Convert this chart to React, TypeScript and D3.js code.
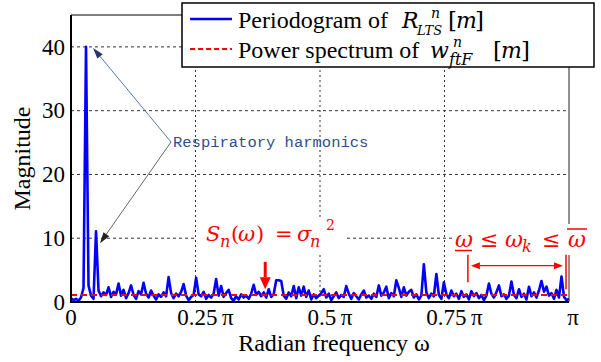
import { useEffect, useState } from 'react';
import * as d3 from 'd3';

const WIDTH = 601;
const HEIGHT = 362;
const MARGIN = { top: 15, right: 32, bottom: 60, left: 71 };

const periodogram = [
  0.6, 0.3, 0.5, 0.2, 0.7, 2.2, 40, 2.6, 1.0, 0.5,
  11.1, 1.8, 0.9, 1.5, 1.1, 2.3, 0.8, 1.6, 1.2, 2.9,
  1.0, 1.9, 0.6, 1.4, 2.6, 1.1, 0.5, 1.7, 1.2, 3.0,
  1.3, 0.7, 1.8, 1.0, 0.4, 1.2, 0.8, 1.5, 0.9, 3.9,
  1.4, 0.6, 1.3, 0.9, 1.6, 2.8, 1.0, 0.3, 0.8, 1.1,
  3.8, 1.2, 0.9, 1.6, 0.5, 1.1, 0.7, 1.3, 3.6, 1.0,
  2.5, 0.8, 1.4, 1.9, 0.6, 0.2, 0.9, 0.4, 1.2, 0.7,
  1.0, 0.5, 1.3, 2.7, 1.1, 1.6, 0.9, 1.5, 0.7, 2.0,
  0.8, 1.2, 3.4, 3.4, 3.3, 1.0, 0.5, 1.5, 0.9, 2.5,
  0.6, 2.3, 1.0, 2.4, 0.8, 1.8, 0.4, 1.2, 0.6, 1.0,
  1.4, 2.0, 0.7, 1.3, 0.3, 0.9, 1.5, 0.6, 1.1, 0.8,
  2.5, 1.3, 0.5, 1.4, 0.9, 0.4, 1.2, 1.8, 0.7, 1.0,
  0.5, 1.3, 0.8, 2.6, 1.0, 1.5, 2.4, 0.6, 1.4, 0.9,
  3.4, 2.2, 0.8, 2.3, 1.0, 1.6, 1.9, 0.7, 1.2, 0.4,
  1.0, 5.9, 1.5, 0.6, 1.3, 0.9, 4.4, 1.1, 0.5, 3.1,
  1.2, 0.6, 1.8, 0.9, 1.3, 0.5, 1.7, 0.8, 1.2, 0.4,
  1.7, 0.9, 1.4, 0.6, 1.1, 0.3, 1.0, 2.9, 1.3, 0.7,
  1.5, 2.6, 0.9, 1.2, 0.5, 1.0, 3.2, 1.1, 0.6, 2.0,
  0.8, 1.3, 0.4, 2.4, 0.9, 1.5, 0.7, 1.8, 3.3, 1.6,
  2.4, 1.0, 1.4, 0.5, 1.9, 0.7, 4.0, 0.8, 0.3, 0.5,
];

// power spectrum of w_ftF[m] (flat: noise variance)
const noiseVariance = 1.1;

const yTicks = [0, 10, 20, 30, 40];
const xTicks = [0, 0.25, 0.5, 0.75, 1]; // multiples of π
const xTickLabels = ['0', '0.25\u2009π', '0.5\u2009π', '0.75\u2009π', 'π'];
const xLabelShift = [0, 10, 10, 10, 4];

// respiratory harmonics (sample index) and the arrow tips' offsets in px
const harmonicIdx = [6, 10];
const harmonicTipOffset = [[7, 1], [4, 12]];

// annotation positions, in data units (ω / π, magnitude)
const snArrow = { w: 0.39, from: 6.3, to: 2.0 };
const band = { lo: 0.797, hi: 0.994, arrowAt: 5.7, top: 7.4, loBottom: 3.1, hiBottom: 2.0 };

const SERIF = 'Liberation Serif';
const MATH = 'DejaVu Serif';
const MONO = 'Liberation Mono';
const RED = '#ff0000';
const BLUE = '#0000ff';

const x = d3.scaleLinear().domain([0, Math.PI]).range([MARGIN.left, WIDTH - MARGIN.right]);
const y = d3.scaleLinear().domain([0, 45]).range([HEIGHT - MARGIN.bottom, MARGIN.top]);
const omega = periodogram.map((_, i) => (i / (periodogram.length - 1)) * Math.PI);

function Arrow({ x1, y1, x2, y2, color, head = color, width = 1, len = 10, w = 7 }: {
  x1: number; y1: number; x2: number; y2: number; color: string; head?: string;
  width?: number; len?: number; w?: number;
}) {
  const a = Math.atan2(y2 - y1, x2 - x1);
  const bx = x2 - len * Math.cos(a);
  const by = y2 - len * Math.sin(a);
  const px = (-Math.sin(a) * w) / 2;
  const py = (Math.cos(a) * w) / 2;
  return (
    <g>
      <line x1={x1} y1={y1} x2={bx} y2={by} stroke={color} strokeWidth={width} />
      <path d={`M${x2},${y2}L${bx + px},${by + py}L${bx - px},${by - py}Z`} fill={head} />
    </g>
  );
}

function T({ x: tx, y: ty, size, italic = false, family = MATH, fill = '#000', children }: {
  x: number; y: number; size: number; italic?: boolean; family?: string; fill?: string; children: string;
}) {
  return (
    <text x={tx} y={ty} style={{ fontFamily: family, fontSize: size, fontStyle: italic ? 'italic' : 'normal' }} fill={fill}>
      {children}
    </text>
  );
}

export default function App() {
  const [, setTick] = useState(0);
  useEffect(() => {
    document.body.style.margin = '0';
    // make sure the installed faces are in use before the final layout
    Promise.all([
      document.fonts.load(`24px "${SERIF}"`),
      document.fonts.load(`italic 22px "${MATH}"`),
      document.fonts.load(`22px "${MATH}"`),
      document.fonts.load(`15px "${MONO}"`),
    ]).finally(() => setTick((t) => t + 1));
  }, []);

  const [x0, x1] = x.range();
  const [y0, y1] = y.range();
  const line = d3.line<number>().x((_, i) => x(omega[i])).y((d) => y(d));
  const sx = x(snArrow.w * Math.PI);
  const bl = x(band.lo * Math.PI);
  const bh = x(band.hi * Math.PI);
  const ay = y(band.arrowAt);
  const mid = (bl + bh) / 2;
  const labelX = 171;
  const labelY = 142;
  const serif = { fontFamily: SERIF };

  return (
    <svg width={WIDTH} height={HEIGHT} style={{ position: 'absolute', left: 0, top: 0, fontFamily: SERIF }}>
      {/* grid */}
      {yTicks.slice(1).map((t) => (
        <line key={`h${t}`} x1={x0} x2={x1} y1={y(t)} y2={y(t)} stroke="#333" strokeDasharray="3,3" />
      ))}
      {xTicks.slice(1, -1).map((t) => (
        <line key={`v${t}`} x1={x(t * Math.PI)} x2={x(t * Math.PI)} y1={y0} y2={y1} stroke="#333" strokeDasharray="2,3" />
      ))}

      {/* series */}
      <path d={line(periodogram) ?? ''} fill="none" stroke={BLUE} strokeWidth={2.6} strokeLinejoin="round" />
      <line x1={x0} x2={x1} y1={y(noiseVariance)} y2={y(noiseVariance)} stroke={RED} strokeWidth={2} strokeDasharray="6,4" />

      {/* frame */}
      <line x1={x0} x2={x1} y1={y1} y2={y1} stroke="#000" />
      <line x1={x1} x2={x1} y1={y0} y2={y1} stroke="#222" />
      <line x1={x0} x2={x0} y1={y0 + 1} y2={y1} stroke="#000" strokeWidth={2} />
      <line x1={x0 - 1} x2={x1} y1={y0} y2={y0} stroke="#000" strokeWidth={2} />

      {/* ticks */}
      {yTicks.map((t) => (
        <text key={`yt${t}`} x={x0 - 6} y={y(t)} dy="0.34em" textAnchor="end" style={serif} fontSize={23}>
          {t}
        </text>
      ))}
      {xTicks.map((t, i) => (
        <text key={`xt${t}`} x={x(t * Math.PI) + xLabelShift[i]} y={y0 + 23} textAnchor="middle" style={serif} fontSize={23}>
          {xTickLabels[i]}
        </text>
      ))}

      {/* axis titles */}
      <text transform={`translate(30,${(y0 + y1) / 2}) rotate(-90)`} textAnchor="middle" style={serif} fontSize={24}>
        Magnitude
      </text>
      <text x={334} y={351} textAnchor="middle" style={serif} fontSize={24}>
        Radian frequency ω
      </text>

      {/* legend */}
      <rect x={182} y={3} width={412} height={64} fill="#fff" stroke="#000" strokeWidth={1.5} />
      <line x1={190} x2={232} y1={19} y2={19} stroke={BLUE} strokeWidth={2.5} />
      <line x1={190} x2={232} y1={49} y2={49} stroke={RED} strokeWidth={2} strokeDasharray="5,3" />
      <T x={238} y={28} size={24} family={SERIF}>Periodogram of</T>
      <T x={402} y={28} size={22} italic>R</T>
      <T x={431} y={18} size={14} italic>n</T>
      <T x={417} y={35} size={13} italic>LTS</T>
      <T x={448} y={28} size={23}>[</T>
      <T x={456} y={28} size={22} italic>m</T>
      <T x={475} y={28} size={23}>]</T>
      <T x={238} y={58} size={24} family={SERIF}>Power spectrum of</T>
      <T x={430} y={58} size={22} italic>w</T>
      <T x={453} y={47} size={14} italic>n</T>
      <T x={449} y={65} size={16} italic>ftF</T>
      <T x={493} y={58} size={23}>[</T>
      <T x={501} y={58} size={22} italic>m</T>
      <T x={521} y={58} size={23}>]</T>

      {/* respiratory harmonics */}
      {harmonicIdx.map((idx, k) => (
        <Arrow
          key={`ha${idx}`}
          x1={labelX}
          y1={labelY}
          x2={x(omega[idx]) + harmonicTipOffset[k][0]}
          y2={y(periodogram[idx]) + harmonicTipOffset[k][1]}
          color={k === 0 ? '#5a78a8' : '#666'}
          head={k === 0 ? '#1f3864' : '#222'}
          len={11}
        />
      ))}
      <text x={labelX + 2} y={labelY + 5} style={{ fontFamily: MONO }} fontSize={15.5} fill="#2f4f8c">
        Respiratory harmonics
      </text>

      {/* S_n(ω) = σ_n² */}
      <rect x={197} y={218} width={150} height={37} fill="#fff" />
      <T x={206} y={241} size={21} italic fill={RED}>S</T>
      <T x={220} y={247} size={16} italic fill={RED}>n</T>
      <T x={231} y={241} size={21} fill={RED}>(</T>
      <T x={238} y={241} size={21} italic fill={RED}>ω</T>
      <T x={256} y={241} size={21} fill={RED}>)</T>
      <T x={275} y={241} size={21} fill={RED}>=</T>
      <T x={297} y={241} size={21} italic fill={RED}>σ</T>
      <T x={310} y={247} size={16} italic fill={RED}>n</T>
      <T x={326} y={230} size={14} fill={RED}>2</T>
      <Arrow x1={sx} y1={y(snArrow.from)} x2={sx} y2={y(snArrow.to)} color={RED} width={3} len={12} w={11} />

      {/* band ω_ ≤ ω_k ≤ ω‾ */}
      <rect x={452} y={224} width={140} height={31} fill="#fff" />
      <T x={455} y={247} size={22} italic fill={RED}>ω</T>
      <T x={480} y={247} size={22} fill={RED}>≤</T>
      <T x={505} y={247} size={22} italic fill={RED}>ω</T>
      <T x={522} y={252} size={16} italic fill={RED}>k</T>
      <T x={542} y={247} size={22} fill={RED}>≤</T>
      <T x={568} y={247} size={22} italic fill={RED}>ω</T>
      <line x1={455} x2={472} y1={250.5} y2={250.5} stroke={RED} strokeWidth={1.5} />
      <line x1={567} x2={587} y1={229} y2={229} stroke={RED} strokeWidth={1.5} />
      <line x1={bl} x2={bl} y1={y(band.top)} y2={y(band.loBottom)} stroke={RED} strokeWidth={1.5} />
      <line x1={bh} x2={bh} y1={y(band.top)} y2={y(band.hiBottom)} stroke={RED} strokeWidth={1.5} />
      <Arrow x1={mid} y1={ay} x2={bl + 3} y2={ay} color={RED} width={1.2} len={9} w={7} />
      <Arrow x1={mid} y1={ay} x2={bh - 3} y2={ay} color={RED} width={1.2} len={9} w={7} />
    </svg>
  );
}
